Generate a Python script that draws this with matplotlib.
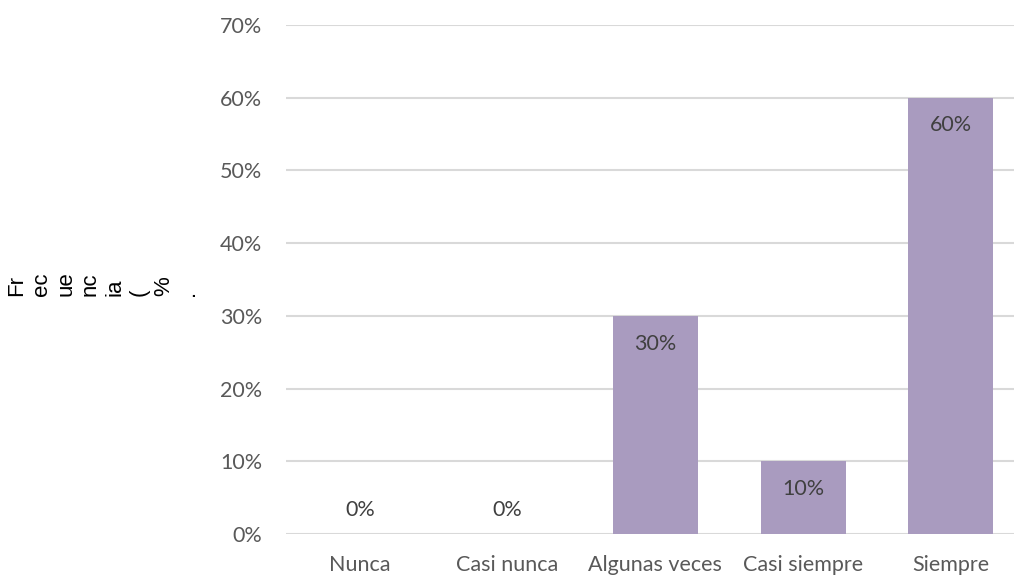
import matplotlib
matplotlib.use("Agg")
import matplotlib.pyplot as plt
from matplotlib.ticker import FuncFormatter

categories = ["Nunca", "Casi nunca", "Algunas veces", "Casi siempre", "Siempre"]
values = [0.00, 0.00, 0.30, 0.10, 0.60]
y_ticks = [0.0, 0.1, 0.2, 0.3, 0.4, 0.5, 0.6, 0.7]
y_label_lines = ["Fr", "ec", "ue", "nc", "ia", "(", "%", "."]

W, H, DPI = 1014, 578, 100
fig = plt.figure(figsize=(W / DPI, H / DPI), dpi=DPI)
fig.patch.set_facecolor("white")

ax_left, ax_right = 286 / W, (286 + 5 * 147.75) / W
ax_bottom, ax_top = (H - 534) / H, (H - 25) / H
ax = fig.add_axes([ax_left, ax_bottom, ax_right - ax_left, ax_top - ax_bottom])

bar_color = "#A99BBF"
grid_color = "#D9D9D9"
tick_color = "#595959"
label_color = "#404040"
font = "Lato"

x = list(range(len(categories)))
ax.bar(x, values, width=0.575, color=bar_color, zorder=3)

ax.set_xlim(-0.5, len(categories) - 0.5)
ax.set_ylim(0, 0.7)
ax.set_yticks(y_ticks)
ax.yaxis.set_major_formatter(FuncFormatter(lambda v, _: f"{v * 100:.0f}%"))
ax.set_xticks(x)
ax.set_xticklabels(categories)

ax.grid(axis="y", color=grid_color, linewidth=1.5, zorder=0)
ax.set_axisbelow(True)
for side in ["top", "right", "left", "bottom"]:
    ax.spines[side].set_visible(False)

ax.tick_params(axis="y", length=0, pad=17, labelsize=15.5, labelcolor=tick_color)
ax.tick_params(axis="x", length=0, pad=15, labelsize=15.5, labelcolor=tick_color)
for lbl in ax.get_xticklabels() + ax.get_yticklabels():
    lbl.set_fontfamily(font)

# value labels: inside the top of each bar, above the axis for empty bars
for xi, v in zip(x, values):
    offset = -20 if v > 0 else 17
    ax.annotate(f"{v * 100:.0f}%", xy=(xi, v), xytext=(0, offset),
                textcoords="offset points", ha="center", va="center",
                fontsize=15.5, color=label_color, fontfamily=font, zorder=4)

# wrapped vertical axis title
fig.text(6 / W, (H - 296) / H, "\n".join(y_label_lines), rotation=90,
         ha="left", va="top", rotation_mode="anchor",
         fontsize=16, fontfamily="Liberation Sans", color="black",
         linespacing=1.22, multialignment="left")

fig.savefig("out.png", dpi=DPI, facecolor="white")
